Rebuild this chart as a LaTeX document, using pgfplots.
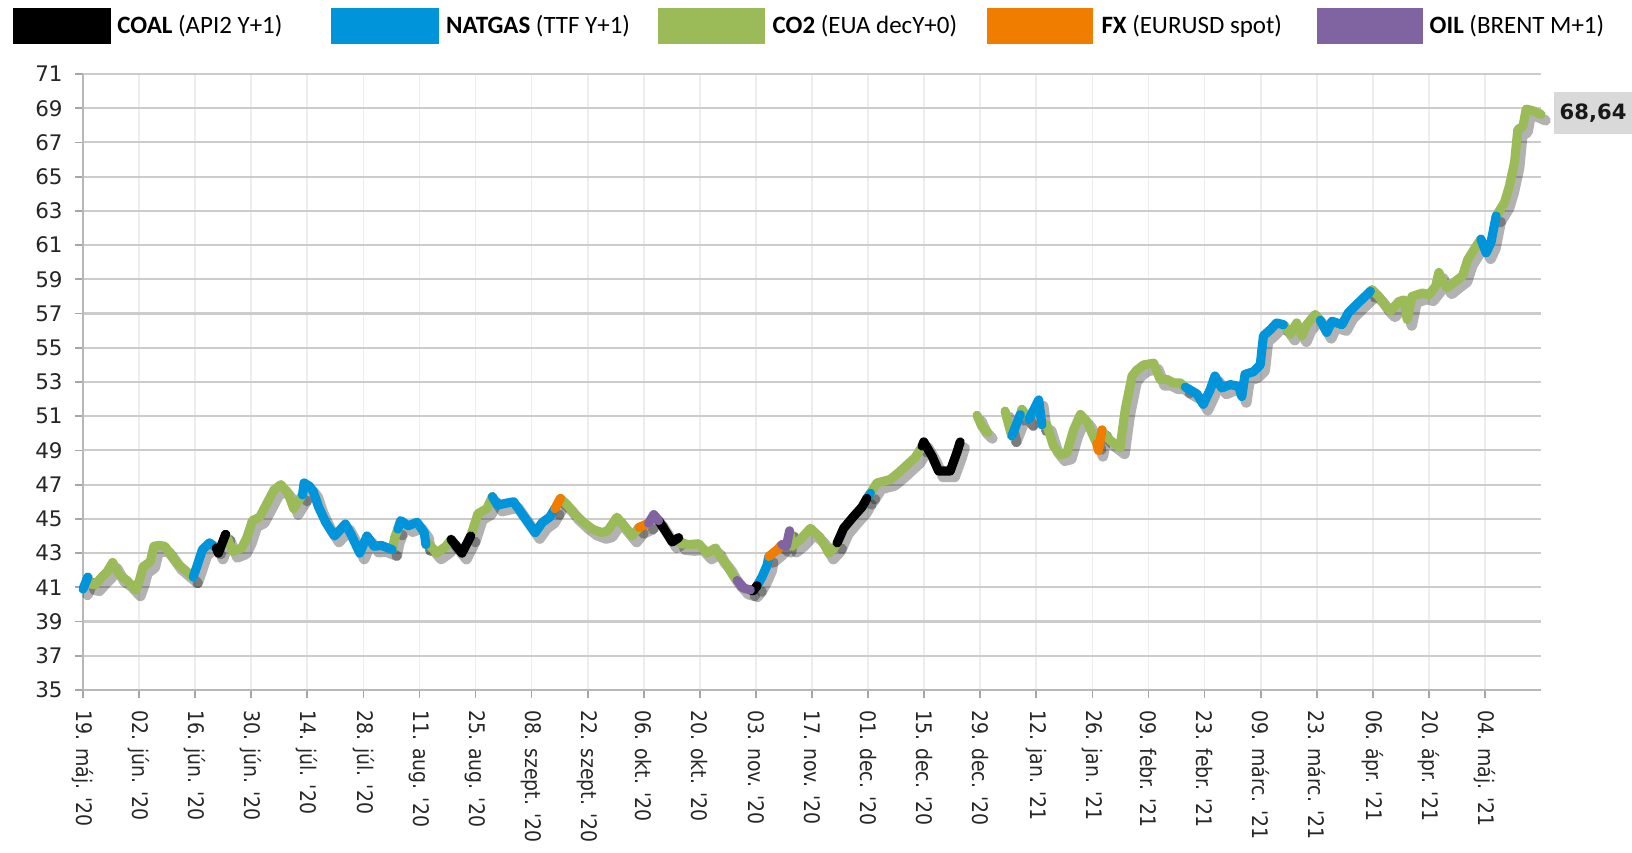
\documentclass[border=0pt]{standalone}
\usepackage{fontspec}
\usepackage{pgfplots}
\pgfplotsset{compat=1.18}
\usepackage{pgfplotstable}
\setmainfont{DejaVu Sans}
\newfontfamily\xlabfont[FakeStretch=0.88]{DejaVu Sans}
\newfontfamily\legfont{Carlito}
\definecolor{cCoal}{RGB}{0,0,0}
\definecolor{cGas}{RGB}{0,149,218}
\definecolor{cCo2}{RGB}{155,187,89}
\definecolor{cFx}{RGB}{240,125,0}
\definecolor{cOil}{RGB}{128,100,162}

\pgfplotstableread{
x y
33.3 43.3
33.8 43.0
35.6 44.1
nan nan
91.9 43.8
94.6 43.0
96.8 44.0
nan nan
143.7 44.9
145.8 44.15
147.1 43.65
148.7 43.9
nan nan
166.6 40.85
167.3 40.8
168.3 41.1
nan nan
188.3 43.6
189.9 44.45
192.4 45.15
194.5 45.7
195.7 46.2
nan nan
209.5 49.25
209.9 49.5
212.0 48.65
213.6 47.8
216.5 47.8
218.2 48.9
219.0 49.5
}\tcoal

\pgfplotstableread{
x y
0 40.9
1.2 41.6
nan nan
27.5 41.6
28.4 42.2
29.8 43.2
31.6 43.6
33.3 43.3
nan nan
54.8 46.4
55.2 47.1
56.6 46.9
57.5 46.6
58.8 45.7
60.6 44.8
62.8 44.0
65.5 44.7
66.9 44.1
69.1 43.0
70.9 44.0
72.7 43.4
74.5 43.45
77.2 43.2
nan nan
78.6 44.4
79.3 44.9
81.2 44.6
83.4 44.8
85.2 44.2
85.6 43.5
nan nan
102.2 46.3
103.5 45.8
105.3 45.9
107.5 46.0
109.3 45.4
112.9 44.2
114.7 44.8
116.5 45.1
117.8 45.6
nan nan
168.3 41.1
169.5 41.6
170.8 42.3
171.2 42.8
nan nan
195.7 46.2
196.6 46.5
nan nan
231.9 49.85
234.0 51.1
nan nan
236.1 50.8
238.6 51.95
239.4 50.5
nan nan
275.2 52.7
278.1 52.3
279.7 51.7
281.4 52.55
282.6 53.35
284.3 52.65
286.4 52.85
288.5 52.75
289.3 52.15
290.1 53.45
292.2 53.6
293.9 54.0
294.7 55.7
296.4 56.05
298.0 56.45
299.7 56.35
nan nan
308.9 56.6
310.5 55.9
311.8 56.55
314.3 56.35
315.9 57.05
318.5 57.65
321.4 58.3
nan nan
349.0 61.35
350.3 60.55
351.5 61.15
352.8 62.7
}\tgas

\pgfplotstableread{
x y
1.2 41.6
1.8 41.2
3.0 41.15
4.7 41.6
6.0 41.9
7.4 42.45
9.2 41.7
11.0 41.4
13.2 40.85
14.2 41.5
15.0 42.2
16.8 42.5
17.7 43.4
19.0 43.45
20.4 43.4
22.0 42.9
23.5 42.4
25.5 42.0
27.5 41.6
nan nan
35.6 44.1
37.4 43.1
39.6 43.3
40.9 43.9
42.3 44.9
44.1 45.1
45.9 45.9
47.7 46.7
49.4 47.0
51.2 46.5
52.6 45.6
53.9 46.1
54.8 46.4
nan nan
77.2 43.2
77.8 43.9
78.6 44.4
nan nan
85.6 43.5
86.1 43.6
88.3 43.0
90.6 43.4
91.9 43.8
nan nan
96.8 44.0
98.6 45.3
100.8 45.6
102.2 46.3
nan nan
119.2 46.2
121.0 45.8
122.7 45.3
125.0 44.8
127.2 44.4
129.5 44.2
131.0 44.3
133.3 45.1
135.0 44.6
137.1 44.0
138.8 44.5
nan nan
148.7 43.9
149.2 43.55
151.6 43.5
153.7 43.55
155.8 43.0
157.9 43.3
159.1 42.8
160.8 42.3
162.0 41.8
163.3 41.4
nan nan
176.4 44.3
177.0 43.4
179.1 43.8
181.6 44.45
184.1 43.9
186.2 43.0
187.8 43.4
188.3 43.6
nan nan
196.6 46.5
198.2 47.1
201.5 47.3
203.6 47.7
205.7 48.15
207.8 48.6
209.5 49.25
nan nan
223.2 51.05
224.4 50.4
225.9 50.05
nan nan
230.2 51.3
231.5 50.15
231.9 49.85
nan nan
234.0 51.1
234.4 51.4
236.1 50.8
nan nan
239.4 50.5
240.6 50.5
242.3 49.25
244.0 48.75
245.6 48.85
247.3 50.2
249.0 51.1
250.6 50.7
252.3 49.8
253.1 49.4
nan nan
254.4 50.2
254.8 50.0
256.4 49.6
258.9 49.15
260.2 51.4
261.9 53.35
263.1 53.7
264.8 54.0
267.3 54.1
268.9 53.15
270.6 53.15
272.3 52.95
273.9 52.95
275.2 52.7
nan nan
299.7 56.35
300.1 56.25
301.4 55.8
303.0 56.45
304.3 55.7
305.5 56.35
307.6 56.95
308.9 56.6
nan nan
321.4 58.3
321.8 58.4
323.5 58.0
325.2 57.45
326.4 57.15
328.5 57.7
329.8 57.8
330.6 56.65
331.8 58.0
334.4 58.2
336.0 58.1
337.7 58.6
338.5 59.4
339.4 58.9
340.6 58.5
342.7 58.9
344.4 59.2
345.7 60.15
347.3 60.75
349.0 61.35
nan nan
352.8 62.7
354.9 63.5
356.1 64.45
357.4 65.85
358.2 67.75
359.5 67.95
360.3 68.95
362.0 68.85
364.0 68.64
}\tco

\pgfplotstableread{
x y
117.8 45.6
119.2 46.2
nan nan
138.8 44.5
141.2 44.75
nan nan
171.2 42.8
173.3 43.2
174.5 43.5
nan nan
253.1 49.4
253.5 49.0
254.4 50.2
}\tfx

\pgfplotstableread{
x y
141.2 44.75
142.5 45.25
143.7 44.9
nan nan
163.3 41.4
165.0 40.95
166.6 40.85
nan nan
174.5 43.5
175.6 43.4
176.4 44.3
}\toil

\begin{document}
\begin{tikzpicture}
\useasboundingbox (0,0) rectangle (163.2mm,85.2mm);
% legend
\begin{scope}[font=\legfont\fontsize{7.1}{8}\selectfont]
\fill[cCoal] (1.25mm,80.83mm) rectangle (11.14mm,84.37mm);
\node[anchor=west,inner sep=0] at (11.66mm,82.6mm) {\textbf{COAL} (API2 Y+1)};
\fill[cGas] (33.1mm,80.83mm) rectangle (43.9mm,84.37mm);
\node[anchor=west,inner sep=0] at (44.55mm,82.6mm) {\textbf{NATGAS} (TTF Y+1)};
\fill[cCo2] (65.8mm,80.83mm) rectangle (76.5mm,84.37mm);
\node[anchor=west,inner sep=0] at (77.2mm,82.6mm) {\textbf{CO2} (EUA decY+0)};
\fill[cFx] (98.7mm,80.83mm) rectangle (109.3mm,84.37mm);
\node[anchor=west,inner sep=0] at (110.1mm,82.6mm) {\textbf{FX} (EURUSD spot)};
\fill[cOil] (131.66mm,80.83mm) rectangle (142.28mm,84.37mm);
\node[anchor=west,inner sep=0] at (142.9mm,82.6mm) {\textbf{OIL} (BRENT M+1)};
\end{scope}
\begin{axis}[
  at={(8.3mm,16.2mm)}, anchor=south west,
  scale only axis, width=145.8mm, height=61.6mm,
  xmin=0, xmax=364, ymin=35, ymax=71,
  unbounded coords=jump,
  axis x line*=bottom, axis y line*=left,
  axis line style={draw=black!28, line width=0.6pt, -},
  xtick={0,14,...,350},
  xticklabels={19. máj. '20,02. jún. '20,16. jún. '20,30. jún. '20,14. júl. '20,28. júl. '20,11. aug. '20,25. aug. '20,08. szept. '20,22. szept. '20,06. okt. '20,20. okt. '20,03. nov. '20,17. nov. '20,01. dec. '20,15. dec. '20,29. dec. '20,12. jan. '21,26. jan. '21,09. febr. '21,23. febr. '21,09. márc. '21,23. márc. '21,06. ápr. '21,20. ápr. '21,04. máj. '21},
  ytick={35,37,...,71},
  tick align=outside,
  major tick length=0.8mm,
  tick style={draw=black!35, line width=0.5pt},
  xticklabel style={rotate=-90, anchor=west, font=\xlabfont\fontsize{6.1}{7}\selectfont, text=black!85},
  yticklabel style={font=\fontsize{6.1}{7}\selectfont, text=black!85},
  /pgf/number format/assume math mode=true,
  xmajorgrids, ymajorgrids,
  x grid style={draw=black!7, line width=0.5pt},
  y grid style={draw=black!20, line width=0.6pt},
  clip=false,
  every axis plot/.append style={line join=round, line cap=round},
]
% shadow
\addplot[draw=black, opacity=0.3, line width=3.0pt, xshift=0.45mm, yshift=-0.6mm] table {\tcoal};
\addplot[draw=black, opacity=0.3, line width=3.0pt, xshift=0.45mm, yshift=-0.6mm] table {\tgas};
\addplot[draw=black, opacity=0.3, line width=3.0pt, xshift=0.45mm, yshift=-0.6mm] table {\tco};
\addplot[draw=black, opacity=0.3, line width=3.0pt, xshift=0.45mm, yshift=-0.6mm] table {\tfx};
\addplot[draw=black, opacity=0.3, line width=3.0pt, xshift=0.45mm, yshift=-0.6mm] table {\toil};
% coloured line
\addplot[draw=cCo2, line width=2.6pt] table {\tco};
\addplot[draw=cGas, line width=2.6pt] table {\tgas};
\addplot[draw=cCoal, line width=2.6pt] table {\tcoal};
\addplot[draw=cFx, line width=2.6pt] table {\tfx};
\addplot[draw=cOil, line width=2.6pt] table {\toil};
\node[anchor=west, fill=black!15, inner xsep=0.6mm, minimum height=4mm, font=\bfseries\fontsize{6}{7}\selectfont, text=black!90] at (axis cs:364,68.72) [xshift=1.2mm] {68,64};
\end{axis}
\end{tikzpicture}
\end{document}
